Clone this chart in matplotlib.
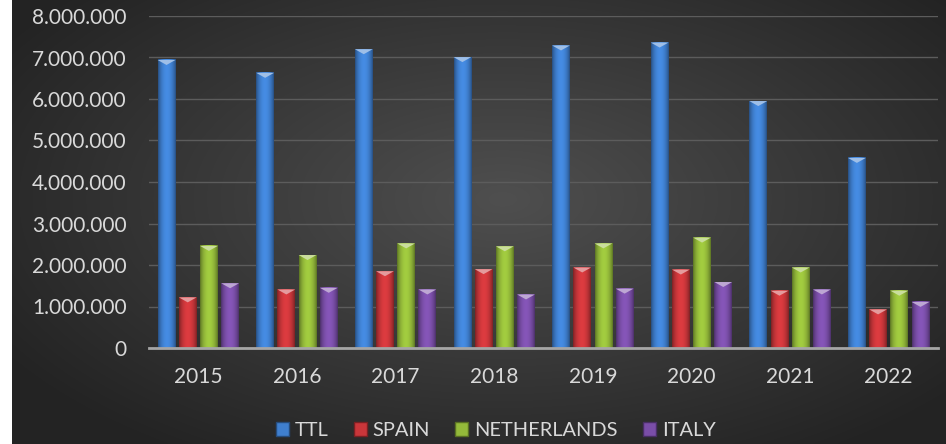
import numpy as np
import matplotlib.pyplot as plt
from matplotlib.patches import Polygon, Patch
from matplotlib.colors import to_rgb
from matplotlib.ticker import FuncFormatter

years = ['2015', '2016', '2017', '2018', '2019', '2020', '2021', '2022']
ttl = [6940000, 6630000, 7200000, 7010000, 7290000, 7360000, 5950000, 4580000]
spain = [1220000, 1410000, 1850000, 1900000, 1940000, 1890000, 1380000, 930000]
netherlands = [2460000, 2240000, 2520000, 2450000, 2520000, 2660000, 1940000, 1380000]
italy = [1560000, 1450000, 1410000, 1290000, 1430000, 1590000, 1410000, 1110000]

series = [('TTL', ttl, '#3f7fcf'),
          ('SPAIN', spain, '#c9363a'),
          ('NETHERLANDS', netherlands, '#94ba3a'),
          ('ITALY', italy, '#7a4ea8')]

plt.rcParams['font.family'] = ['Lato', 'DejaVu Sans']
plt.rcParams['font.size'] = 15
txt_col = '#d9d9d9'

fig = plt.figure(figsize=(9.46, 4.44), dpi=100)
fig.patch.set_facecolor('white')

# radial dark background (left strip stays white)
bg = fig.add_axes([12 / 946, 0, 934 / 946, 1], zorder=-10)
gx, gy = np.meshgrid(np.linspace(-1, 1, 400), np.linspace(-1, 1, 200))
r = np.sqrt(((gx - 0.05) / 1.1) ** 2 + ((gy + 0.1) / 1.2) ** 2)
lev = np.clip(0.31 - 0.15 * r, 0.14, 0.31)
bg.imshow(np.dstack([lev, lev, lev]), aspect='auto', extent=(0, 1, 0, 1),
          interpolation='bilinear')
bg.set_axis_off()

ax = fig.add_axes([149 / 946, 96 / 444, 789 / 946, 332 / 444])
ax.patch.set_alpha(0)

x = np.arange(len(years))
step = 0.215
width = 0.18
tri_h = 120000
t = np.linspace(0, 1, 60)
shade = np.clip(0.6 + 0.5 * np.sin(np.pi * t) ** 0.7, 0, 1.12)

for i, (name, vals, col) in enumerate(series):
    base = np.array(to_rgb(col))
    grad = np.clip(base[None, :] * shade[:, None], 0, 1)[None, :, :]
    light = np.clip(base + (1 - base) * 0.5, 0, 1)
    for xi, v in zip(x, vals):
        x0 = xi + (i - 1.5) * step - width / 2
        x1 = x0 + width
        ax.imshow(grad, extent=(x0, x1, 0, v), aspect='auto',
                  interpolation='bilinear', zorder=3)
        ax.add_patch(Polygon([(x0, v), (x1, v), ((x0 + x1) / 2, v - tri_h)],
                             closed=True, facecolor=light, edgecolor='none',
                             zorder=4))

ax.set_xlim(-0.5, len(years) - 0.5)
ax.set_ylim(0, 8000000)
ax.set_yticks(np.arange(0, 8000001, 1000000))
ax.yaxis.set_major_formatter(FuncFormatter(lambda v, p: f'{int(v):,}'.replace(',', '.')))
ax.set_xticks(x)
ax.set_xticklabels(years)
ax.grid(axis='y', color='#5c5c5c', linewidth=1, zorder=0)
ax.set_axisbelow(True)
for s in ['top', 'right', 'left']:
    ax.spines[s].set_visible(False)
ax.spines['bottom'].set_color('#a6a6a6')
ax.spines['bottom'].set_linewidth(2)
ax.spines['bottom'].set_zorder(5)
ax.tick_params(axis='y', length=0, pad=16, colors=txt_col)
ax.tick_params(axis='x', length=0, pad=14, colors=txt_col)

handles = [Patch(facecolor=c, edgecolor=np.array(to_rgb(c)) * 0.6, label=n)
           for n, _, c in series]
leg = fig.legend(handles=handles, loc='center', bbox_to_anchor=(0.524, 0.03),
                 ncol=4, frameon=False, fontsize=14.4, handlelength=0.65,
                 handleheight=0.65, handletextpad=0.3, columnspacing=1.25,
                 labelcolor=txt_col)

fig.savefig('out.png', dpi=100, facecolor=fig.get_facecolor())
